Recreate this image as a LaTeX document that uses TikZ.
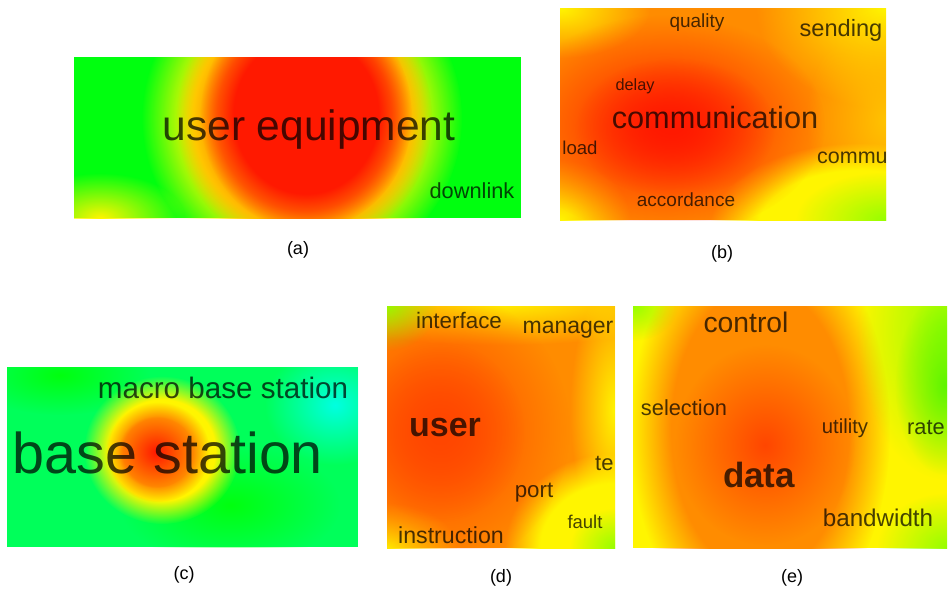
\documentclass[tikz,border=0pt]{standalone}
\usepackage{fontspec}
\setmainfont{Liberation Sans}
\usetikzlibrary{fadings}

\definecolor{hred}{RGB}{255,25,0}
\definecolor{hredorange}{RGB}{255,70,0}
\definecolor{horange}{RGB}{255,140,0}
\definecolor{hamber}{RGB}{255,195,0}
\definecolor{hyellow}{RGB}{255,245,0}
\definecolor{hlime}{RGB}{150,255,0}
\definecolor{hleaf}{RGB}{95,245,0}
\definecolor{hgreen}{RGB}{0,255,15}
\definecolor{hmint}{RGB}{0,255,90}
\definecolor{hcyan}{RGB}{0,255,225}

% soft heat spots: opaque core, fading rim
\pgfdeclareradialshading{blobcore}{\pgfpointorigin}{color(0bp)=(white); color(17bp)=(white); color(25bp)=(black); color(50bp)=(black)}
\pgfdeclarefading{softblob}{\pgfuseshading{blobcore}}
\pgfdeclareradialshading{blobhaze}{\pgfpointorigin}{color(0bp)=(white); color(25bp)=(black); color(50bp)=(black)}
\pgfdeclarefading{hazeblob}{\pgfuseshading{blobhaze}}

\tikzset{
  soft/.style={path fading=softblob},
  haze/.style={path fading=hazeblob},
  word/.style={inner sep=0pt, text=black, text opacity=0.72, font=\fontsize{#1}{#1}\selectfont},
  caption/.style={inner sep=0pt, font=\fontsize{18}{18}\selectfont}
}

\begin{document}
\begin{tikzpicture}[x=1pt, y=-1pt]
  \useasboundingbox[fill=white] (0,0) rectangle (948,589);

  % Panel (a)
  \begin{scope}
    \clip (74,57) rectangle (521,218);
    \fill[hgreen] (74,57) rectangle (521,218);
    \fill[hyellow, haze] (100,218) ellipse (85 and 45);
    \fill[hyellow, soft] (302,118) ellipse (160 and 160);
    \fill[horange, soft] (304,118) ellipse (128 and 135);
    \fill[hred, soft] (306,115) ellipse (106 and 115);
    \node (ue) [word=42.5] at (309,130) {user equipment};
    \node (downlink) [word=21.8] at (472,191) {downlink};
  \end{scope}
  \node (capa) [caption] at (298,250) {(a)};

  % Panel (b)
  \begin{scope}
    \clip (560,8) rectangle (886,220);
    \fill[horange] (560,8) rectangle (886,220);
    \fill[hyellow, haze] (560,8) ellipse (90 and 50);
    \fill[hyellow, haze] (886,8) ellipse (130 and 100);
    \fill[hamber, haze] (886,120) ellipse (80 and 110);
    \fill[hyellow, haze] (560,220) ellipse (70 and 60);
    \fill[hyellow, soft] (860,228) ellipse (150 and 85);
    \fill[hlime, haze] (886,220) ellipse (90 and 48);
    \fill[hred, haze] (665,125) ellipse (160 and 110);
    \fill[hred, haze] (675,128) ellipse (100 and 70);
    \node (quality) [word=19] at (697,23) {quality};
    \node (sending) [word=23.6] at (841,30) {sending};
    \node (delay) [word=16.3] at (635,86) {delay};
    \node (comm) [word=30.7] at (715,118) {communication};
    \node (load) [word=18.6] at (580,148) {load};
    \node (commu) [word=21.5, anchor=west] at (817,158) {commu};
    \node (accord) [word=19] at (686,200) {accordance};
  \end{scope}
  \node (capb) [caption] at (722,254) {(b)};

  % Panel (c)
  \begin{scope}
    \clip (7,367) rectangle (358,547);
    \fill[hmint] (7,367) rectangle (358,547);
    \fill[hgreen, haze] (60,375) ellipse (90 and 40);
    \fill[hgreen, haze] (230,505) ellipse (110 and 60);
    \fill[hcyan, haze] (335,405) ellipse (70 and 60);
    \fill[hyellow, soft] (162,450) ellipse (78 and 74);
    \fill[horange, soft] (158,452) ellipse (52 and 50);
    \fill[hred, haze] (156,452) ellipse (38 and 36);
    \node (macro) [word=29.6] at (223,388) {macro base station};
    \node (bs) [word=57.5] at (168,453) {base station};
  \end{scope}
  \node (capc) [caption] at (184,575) {(c)};

  % Panel (d)
  \begin{scope}
    \clip (387,306) rectangle (615,548);
    \fill[horange] (387,306) rectangle (615,548);
    \fill[hyellow, haze] (500,300) ellipse (220 and 45);
    \fill[hlime, haze] (387,306) ellipse (50 and 45);
    \fill[hyellow, haze] (615,410) ellipse (45 and 130);
    \fill[hyellow, haze] (387,548) ellipse (70 and 45);
    \fill[hyellow, soft] (615,548) ellipse (110 and 95);
    \fill[hlime, haze] (615,548) ellipse (45 and 40);
    \fill[hredorange, haze] (440,430) ellipse (130 and 140);
    \fill[hredorange, haze] (440,432) ellipse (85 and 90);
    \node (interface) [word=22.4] at (459,320) {interface};
    \node (manager) [word=23] at (568,330) {manager};
    \node (user) [word=34] at (445,428) {\bfseries user};
    \node (te) [word=22, anchor=west] at (595,463) {te};
    \node (port) [word=22.3] at (534,493) {port};
    \node (fault) [word=18.5] at (585,522) {fault};
    \node (instr) [word=23.2] at (451,535) {instruction};
  \end{scope}
  \node (capd) [caption] at (501,578) {(d)};

  % Panel (e)
  \begin{scope}
    \clip (633,306) rectangle (947,548);
    \fill[hyellow] (633,306) rectangle (947,548);
    \fill[hlime, haze] (633,306) ellipse (45 and 35);
    \fill[horange, soft] (760,430) ellipse (130 and 210);
    \fill[hredorange, haze] (765,445) ellipse (90 and 100);
    \fill[hlime, haze] (947,330) ellipse (90 and 150);
    \fill[hleaf, haze] (945,385) ellipse (50 and 90);
    \fill[hlime, haze] (947,548) ellipse (70 and 55);
    \node (control) [word=28.3] at (746,322) {control};
    \node (selection) [word=21.8] at (684,408) {selection};
    \node (utility) [word=20.3] at (845,428) {utility};
    \node (rate) [word=21.8] at (926,428) {rate};
    \node (data) [word=35] at (759,475) {\bfseries data};
    \node (bandwidth) [word=24.2] at (878,518) {bandwidth};
  \end{scope}
  \node (cape) [caption] at (792,578) {(e)};
\end{tikzpicture}
\end{document}
